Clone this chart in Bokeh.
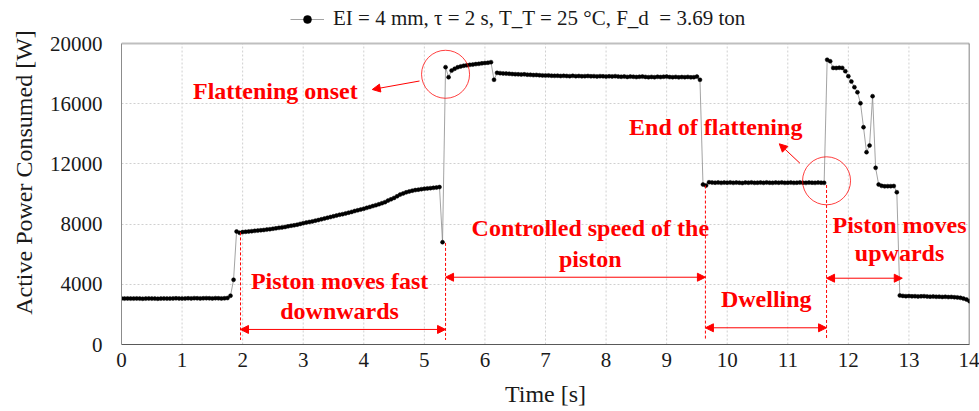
from bokeh.plotting import figure
from bokeh.models import (Range1d, Legend, LegendItem, Arrow, NormalHead,
                          FixedTicker, ColumnDataSource)
from bokeh.core.properties import value
from bokeh.embed import file_html
from bokeh.resources import INLINE

# ---------------- data ----------------
SAMPLE_DT = 0.05  # s, sampling period of the power logger

idle_start = [3060, 3050, 3060, 3050, 3050, 3060, 3050, 3040, 3050, 3060,
              3050, 3050, 3040, 3050, 3060, 3050, 3050, 3060, 3070, 3060,
              3050, 3060, 3070, 3060, 3080, 3070, 3060, 3070, 3080, 3070,
              3060, 3080, 3070, 3060, 3070, 3090]
fast_onset = [3240, 4300, 7510, 7420]
fast_down = [7470, 7490, 7510, 7530, 7550, 7570, 7590, 7610, 7640, 7660,
             7690, 7720, 7750, 7780, 7810, 7850, 7890, 7920, 7960, 8010,
             8060, 8100, 8140, 8180, 8230, 8270, 8320, 8370, 8420, 8470,
             8520, 8570, 8620, 8660, 8710, 8760, 8810, 8870, 8920, 8970,
             9020, 9080, 9140, 9200, 9260, 9320, 9390, 9460, 9560, 9650,
             9740, 9850, 9960, 10040, 10110, 10170, 10220, 10260, 10290, 10320,
             10350, 10370, 10390, 10410, 10430, 10460]
flatten_onset = [6800, 18430, 17760, 18200]
flatten_peak = [18320, 18420, 18480, 18520, 18550, 18580, 18600, 18630, 18650,
                18680, 18700, 18720, 18760]
flatten_dip = [17590]
controlled = [18050, 18030, 18010, 18000, 17990, 17970, 17960, 17950, 17940, 17950,
              17930, 17920, 17900, 17910, 17890, 17880, 17870, 17880, 17860, 17850,
              17860, 17840, 17850, 17840, 17830, 17850, 17830, 17840, 17820, 17830,
              17840, 17820, 17830, 17810, 17830, 17820, 17800, 17820, 17810, 17830,
              17800, 17790, 17810, 17780, 17800, 17790, 17770, 17790, 17800, 17780,
              17760, 17780, 17760, 17790, 17770, 17790, 17800, 17770, 17760, 17780,
              17750, 17770, 17760, 17780, 17750, 17760, 17800]
flatten_end = [17590, 10630, 10560]
dwelling = [10780, 10760, 10750, 10770, 10740, 10760, 10750, 10770, 10740, 10760,
            10750, 10730, 10760, 10750, 10770, 10740, 10750, 10760, 10740, 10770,
            10750, 10740, 10760, 10750, 10770, 10740, 10750, 10760, 10740, 10750,
            10770, 10750, 10740, 10760, 10750, 10740, 10760, 10750, 10740]
upward = [18920, 18820, 18380, 18370, 18390, 18380, 18160, 17830, 17475, 17100,
          16760, 16030, 14440, 12780, 13220, 16500, 11740, 10630, 10540, 10510,
          10520, 10520, 10530, 10120, 3260]
idle_end = [3230, 3210, 3220, 3200, 3210, 3190, 3200, 3210, 3190, 3180,
            3190, 3170, 3180, 3160, 3170, 3150, 3160, 3140, 3130, 3100,
            3050, 2990, 2880]

power = (idle_start + fast_onset + fast_down + flatten_onset + flatten_peak +
         flatten_dip + controlled + flatten_end + dwelling + upward + idle_end)
time = [round(i * SAMPLE_DT, 2) for i in range(len(power))]

X_MIN, X_MAX = 0, 14
Y_MIN, Y_MAX = 0, 20000
x_ticks = list(range(0, 15))
y_ticks = [0, 4000, 8000, 12000, 16000, 20000]
legend_label = "EI = 4 mm, \u03c4 = 2 s, T_T = 25 \u00b0C, F_d  = 3.69 ton"

# annotation content
note_text = ["Flattening onset", "End of flattening", "Controlled speed of the", "piston",
             "Piston moves fast", "downwards", "Dwelling", "Piston moves", "upwards"]
note_x = [2.54, 9.81, 7.74, 7.74, 3.60, 3.60, 10.645, 12.845, 12.845]
note_y = [16850, 14450, 7708, 5714, 4206, 2259, 3037, 7973, 6047]

circle_x = [5.35, 11.64]
circle_y = [17955, 10877]

# phase boundaries (s) used for the dashed markers and span arrows
b_fast0, b_fast1, b_dwell0, b_dwell1, b_up1 = 1.965, 5.35, 9.64, 11.64, 12.89
dash_x = [b_fast0, b_fast1, b_dwell0, b_dwell1]
dash_top = [7450, 6750, 10560, 10600]
dash_bottom = [300, 300, 300, 300]

span_x0 = [b_fast0, b_fast1, b_dwell0, b_dwell1]
span_x1 = [b_fast1, b_dwell0, b_dwell1, b_up1]
span_y = [1000, 4470, 1110, 4405]

pointer_x0 = [4.92, 11.20]
pointer_y0 = [17508, 12046]
pointer_x1 = [4.14, 10.86]
pointer_y1 = [16944, 13335]

# ---------------- figure ----------------
SERIF = "Liberation Serif"
RED = "#ff0000"
W, H = 979, 411
FRAME_BOTTOM = 67            # px below the plot area
PLOT_TOP_GAP = 43            # px between canvas top and the 20000 line (legend lives here)
frame_h = H - FRAME_BOTTOM
y_top = Y_MAX * frame_h / (frame_h - PLOT_TOP_GAP)   # range end so 20000 sits 43px below top

p = figure(width=W, height=H, output_backend="svg", toolbar_location=None,
           x_range=Range1d(X_MIN, X_MAX), y_range=Range1d(Y_MIN, y_top),
           min_border_left=121, min_border_right=10, min_border_bottom=FRAME_BOTTOM,
           min_border_top=0)
p.background_fill_color = "white"
p.border_fill_color = "white"
p.outline_line_color = None

for ax, ticks in ((p.xaxis, x_ticks), (p.yaxis, y_ticks)):
    ax.ticker = FixedTicker(ticks=ticks)
    ax.major_tick_out = 0
    ax.major_tick_in = 0
    ax.minor_tick_out = 0
    ax.minor_tick_in = 0
    ax.major_label_text_font = SERIF
    ax.major_label_text_font_size = "21px"
    ax.major_label_text_color = "#1a1a1a"
    ax.axis_label_text_font = SERIF
    ax.axis_label_text_font_size = "24px"
    ax.axis_label_text_font_style = "normal"
    ax.axis_label_text_color = "#1a1a1a"

p.xaxis.axis_label = "Time [s]"
p.yaxis.axis_label = "Active Power Consumed [W]"
p.yaxis.bounds = (Y_MIN, Y_MAX)
p.xaxis.axis_line_color = "#595959"
p.yaxis.axis_line_color = "#8c8c8c"
p.xaxis.major_label_standoff = 8
p.xaxis.axis_label_standoff = 11
p.yaxis.major_label_standoff = 19
p.yaxis.axis_label_standoff = 10

# grid: horizontal via the grid model, vertical drawn only up to the 20000 line
p.ygrid.ticker = FixedTicker(ticks=y_ticks)
p.ygrid.grid_line_color = "#d0d0d0"
p.ygrid.grid_line_dash = "2 2"
p.xgrid.visible = False
p.segment(x0=x_ticks[1:-1], y0=[Y_MIN] * (len(x_ticks) - 2), x1=x_ticks[1:-1],
          y1=[Y_MAX] * (len(x_ticks) - 2), line_color="#d0d0d0", line_dash="2 2",
          line_width=1)
# plot-area border: light top edge, darker right edge
p.segment(x0=[X_MIN], y0=[Y_MAX], x1=[X_MAX], y1=[Y_MAX], line_color="#bfbfbf", line_width=2)
p.segment(x0=[X_MAX], y0=[Y_MIN], x1=[X_MAX], y1=[Y_MAX], line_color="#595959", line_width=1.5)

# data series
r_line = p.line(time, power, line_color="#8c8c8c", line_width=0.8)
r_pts = p.scatter(time, power, size=4, marker="circle", fill_color="black",
                  line_color="black", line_width=0.5)

# annotations
p.segment(x0=dash_x, y0=dash_top, x1=dash_x, y1=dash_bottom, line_color=RED,
          line_width=1, line_dash="3 2")

head = dict(size=8, fill_color=RED, line_color=RED)
span_src = ColumnDataSource(dict(x0=span_x0, x1=span_x1, y=span_y))
p.add_layout(Arrow(start=NormalHead(**head), end=NormalHead(**head),
                   x_start="x0", y_start="y", x_end="x1", y_end="y",
                   source=span_src, line_color=RED, line_width=1))
ptr_src = ColumnDataSource(dict(x0=pointer_x0, y0=pointer_y0, x1=pointer_x1, y1=pointer_y1))
p.add_layout(Arrow(end=NormalHead(**head), x_start="x0", y_start="y0",
                   x_end="x1", y_end="y1", source=ptr_src, line_color=RED, line_width=1))

p.scatter(circle_x, circle_y, size=48, marker="circle", fill_color=None,
          line_color=RED, line_width=1, line_alpha=0.75)

p.text(x=note_x, y=note_y, text=note_text, text_font=value(SERIF),
       text_font_style="bold", text_font_size="24px", text_color=RED,
       text_align="center", text_baseline="middle")

# legend in the band above the 20000 line
legend = Legend(items=[LegendItem(label=legend_label, renderers=[r_line, r_pts])],
                location=(169, frame_h - 31), orientation="horizontal",
                label_text_font=SERIF, label_text_font_size="21px",
                label_text_color="#1a1a1a", glyph_width=34, glyph_height=20,
                label_height=20, label_standoff=9, padding=0, margin=0,
                border_line_color=None, background_fill_alpha=0)
p.add_layout(legend, "center")

open("out.html", "w").write(file_html(p, INLINE))
